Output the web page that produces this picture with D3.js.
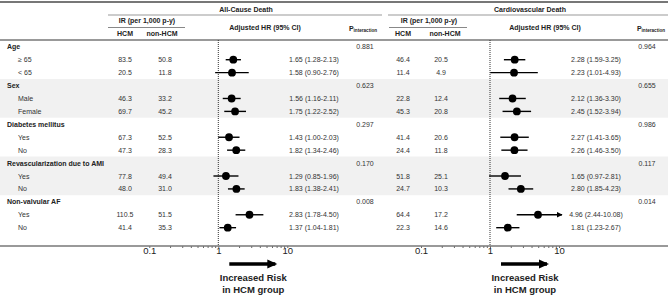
<!DOCTYPE html>
<html><head><meta charset="utf-8">
<script src="https://cdn.jsdelivr.net/npm/d3@7"></script>
<style>
body{margin:0;background:#fff;}
svg{display:block;font-family:Arial,"Liberation Sans",sans-serif;}
</style></head>
<body><svg id="c" width="668" height="296"></svg>
<script>
const groups = ["Age","Sex","Diabetes mellitus","Revascularization due to AMI","Non-valvular AF"];
const subgroups = [["≥ 65","< 65"],["Male","Female"],["Yes","No"],["Yes","No"],["Yes","No"]];

const irHcmAll = [83.5,20.5,46.3,69.7,67.3,47.3,77.8,48.0,110.5,41.4];
const irNonAll = [50.8,11.8,33.2,45.2,52.5,28.3,49.4,31.0,51.5,35.3];
const hrAll = [1.65,1.58,1.56,1.75,1.43,1.82,1.29,1.83,2.83,1.37];
const loAll = [1.28,0.90,1.16,1.22,1.00,1.34,0.85,1.38,1.78,1.04];
const hiAll = [2.13,2.76,2.11,2.52,2.03,2.46,1.96,2.41,4.50,1.81];
const pAll = ["0.881","0.623","0.297","0.170","0.008"];

const irHcmCv = [46.4,11.4,22.8,45.3,41.4,24.4,51.8,24.7,64.4,22.3];
const irNonCv = [20.5,4.9,12.4,20.8,20.6,11.8,25.1,10.3,17.2,14.6];
const hrCv = [2.28,2.23,2.12,2.45,2.27,2.26,1.65,2.80,4.96,1.81];
const loCv = [1.59,1.01,1.36,1.52,1.41,1.46,0.97,1.85,2.44,1.23];
const hiCv = [3.25,4.93,3.30,3.94,3.65,3.50,2.81,4.23,10.08,2.67];
const pCv = ["0.964","0.655","0.986","0.117","0.014"];

const axisMajor = [0.1,1,10];
const axisMinor = [0.2,0.3,0.4,0.5,0.6,0.7,0.8,0.9,2,3,4,5,6,7,8,9];
const panelTitles = ["All-Cause Death","Cardiovascular Death"];

const svg = d3.select("#c");
const W = 668;
const txt = "#222";
const rowY = d3.scaleLinear().domain([0,1]).range([46.8, 46.8+12.92]);

// shading for Sex and Revascularization groups
[1,3].forEach(g=>{
  svg.append("rect").attr("x",0).attr("width",W)
    .attr("y", rowY(g*3)-6.6).attr("height", 12.92*3)
    .attr("fill","#f1f1f1");
});

// left labels
groups.forEach((g,gi)=>{
  svg.append("text").attr("x",7).attr("y",rowY(gi*3)+2.5)
    .attr("font-size",7).attr("font-weight","bold").attr("fill",txt).text(g);
  subgroups[gi].forEach((s,si)=>{
    svg.append("text").attr("x",18).attr("y",rowY(gi*3+1+si)+2.5)
      .attr("font-size",7).attr("fill","#333").text(s);
  });
});

// horizontal rules
function hline(x1,x2,y,w,c){svg.append("line").attr("x1",x1).attr("x2",x2).attr("y1",y).attr("y2",y).attr("stroke",c).attr("stroke-width",w);}
hline(0,W,2,2,"#777");
hline(0,W,40,1.6,"#777");

const panels = [
  {title:panelTitles[0], tx:246, span:[108,382], irC:147, irLine:[108,185], hcmX:125, nonHX:162, nonX:165, hrHead:265, hrTxt:314, pX:365, pHead:363,
   x1:218.3, irH:irHcmAll, irN:irNonAll, hr:hrAll, lo:loAll, hi:hiAll, p:pAll},
  {title:panelTitles[1], tx:530, span:[388,668], irC:429, irLine:[389,467], hcmX:403, nonHX:445, nonX:441, hrHead:545, hrTxt:596, pX:647, pHead:651,
   x1:490, irH:irHcmCv, irN:irNonCv, hr:hrCv, lo:loCv, hi:hiCv, p:pCv}
];

svg.append("defs").append("marker").attr("id","ah").attr("viewBox","0 0 10 10")
  .attr("refX",9).attr("refY",5).attr("markerWidth",6).attr("markerHeight",6)
  .attr("markerUnits","userSpaceOnUse").attr("orient","auto")
  .append("path").attr("d","M0,0L10,5L0,10Z").attr("fill","#000");

const rowsIdx = [];
groups.forEach((g,gi)=>{subgroups[gi].forEach((s,si)=>rowsIdx.push(gi*3+1+si));});

panels.forEach(P=>{
  const g = svg.append("g");
  g.append("text").attr("x",P.tx).attr("y",11.5).attr("text-anchor","middle")
    .attr("font-size",7).attr("font-weight","bold").attr("fill",txt).text(P.title);
  hline(P.span[0],P.span[1],15,1,"#999");
  g.append("text").attr("x",P.irC).attr("y",22.5).attr("text-anchor","middle")
    .attr("font-size",7).attr("font-weight","bold").attr("fill",txt).text("IR (per 1,000 p-y)");
  hline(P.irLine[0],P.irLine[1],27.5,1,"#888");
  g.append("text").attr("x",P.hcmX).attr("y",35.5).attr("text-anchor","middle")
    .attr("font-size",7).attr("font-weight","bold").attr("fill",txt).text("HCM");
  g.append("text").attr("x",P.nonHX).attr("y",35.5).attr("text-anchor","middle")
    .attr("font-size",7).attr("font-weight","bold").attr("fill",txt).text("non-HCM");
  g.append("text").attr("x",P.hrHead).attr("y",29.5).attr("text-anchor","middle")
    .attr("font-size",7).attr("font-weight","bold").attr("fill",txt).text("Adjusted HR (95% CI)");
  const pt = g.append("text").attr("x",P.pHead).attr("y",30.5).attr("text-anchor","middle")
    .attr("font-size",7).attr("font-weight","bold").attr("fill",txt);
  pt.append("tspan").text("P");
  pt.append("tspan").attr("font-size",4.6).attr("dy",1.5).text("interaction");

  const x = d3.scaleLog().domain([0.1,10]).range([P.x1-69, P.x1+69]);
  const xc = v => x(Math.min(v,10));

  // dotted reference line at 1
  g.append("line").attr("x1",x(1)).attr("x2",x(1)).attr("y1",40).attr("y2",246)
    .attr("stroke","#333").attr("stroke-width",1).attr("stroke-dasharray","1,1");

  // p values
  P.p.forEach((v,gi)=>{
    g.append("text").attr("x",P.pX).attr("y",rowY(gi*3)+2.5).attr("text-anchor","middle")
      .attr("font-size",7).attr("fill","#333").text(v);
  });

  rowsIdx.forEach((ri,i)=>{
    const y = rowY(ri);
    g.append("text").attr("x",P.hcmX).attr("y",y+2.5).attr("text-anchor","middle")
      .attr("font-size",7).attr("fill","#333").text(P.irH[i].toFixed(1));
    g.append("text").attr("x",P.nonX).attr("y",y+2.5).attr("text-anchor","middle")
      .attr("font-size",7).attr("fill","#333").text(P.irN[i].toFixed(1));
    const ln = g.append("line").attr("x1",x(P.lo[i])).attr("x2",xc(P.hi[i])).attr("y1",y).attr("y2",y)
      .attr("stroke","#000").attr("stroke-width",1.4);
    if (P.hi[i] > 10) ln.attr("x2",xc(P.hi[i])+3).attr("marker-end","url(#ah)");
    g.append("circle").attr("cx",x(P.hr[i])).attr("cy",y).attr("r",3.9).attr("fill","#000");
    g.append("text").attr("x",P.hrTxt).attr("y",y+2.5).attr("text-anchor","middle")
      .attr("font-size",7).attr("fill","#333")
      .text(`${P.hr[i].toFixed(2)} (${P.lo[i].toFixed(2)}-${P.hi[i].toFixed(2)})`);
  });

  // axis
  const ax = g.append("g").attr("transform","translate(0,246)")
    .call(d3.axisBottom(x).tickValues(axisMajor.concat(axisMinor)).tickSize(2)
      .tickFormat(d=>axisMajor.includes(d)?String(d):""));
  ax.select(".domain").remove();
  ax.selectAll(".tick line").attr("stroke","#666");
  ax.selectAll(".tick text").attr("font-size",9.5).attr("fill",txt).attr("dy","0.3em")
    .attr("font-family","Arial, 'Liberation Sans', sans-serif");

  // arrow
  g.append("line").attr("x1",x(1)+11).attr("x2",x(1)+57).attr("y1",264).attr("y2",264)
    .attr("stroke","#000").attr("stroke-width",3.6);
  g.append("path").attr("d",`M${x(1)+49},259.5L${x(1)+59},264L${x(1)+49},268.5Z`).attr("fill","#000");
  g.append("text").attr("x",x(1)+35).attr("y",281).attr("text-anchor","middle")
    .attr("font-size",9.5).attr("font-weight","bold").attr("fill",txt).text("Increased Risk");
  g.append("text").attr("x",x(1)+35).attr("y",292.5).attr("text-anchor","middle")
    .attr("font-size",9.5).attr("font-weight","bold").attr("fill",txt).text("in HCM group");
});

hline(0,W,246,1.4,"#777");
</script></body></html>
